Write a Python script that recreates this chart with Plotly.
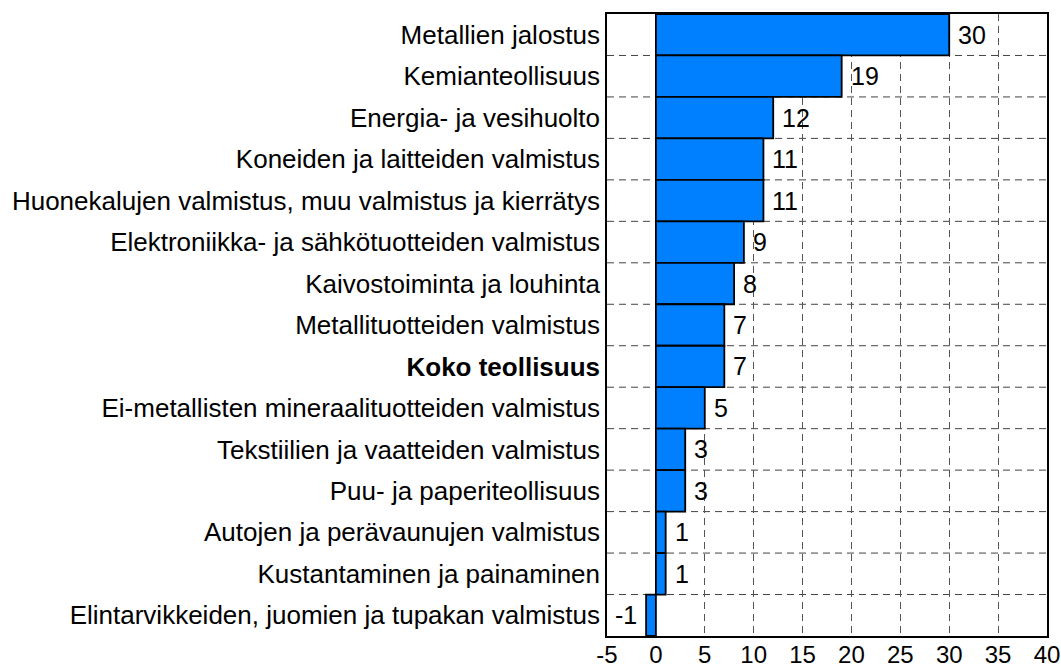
import plotly.graph_objects as go

categories = [
    "Metallien jalostus",
    "Kemianteollisuus",
    "Energia- ja vesihuolto",
    "Koneiden ja laitteiden valmistus",
    "Huonekalujen valmistus, muu valmistus ja kierrätys",
    "Elektroniikka- ja sähkötuotteiden valmistus",
    "Kaivostoiminta ja louhinta",
    "Metallituotteiden valmistus",
    "<b>Koko teollisuus</b>",
    "Ei-metallisten mineraalituotteiden valmistus",
    "Tekstiilien ja vaatteiden valmistus",
    "Puu- ja paperiteollisuus",
    "Autojen ja perävaunujen valmistus",
    "Kustantaminen ja painaminen",
    "Elintarvikkeiden, juomien ja tupakan valmistus",
]
values = [30, 19, 12, 11, 11, 9, 8, 7, 7, 5, 3, 3, 1, 1, -1]
x_ticks = [-5, 0, 5, 10, 15, 20, 25, 30, 35, 40]

n = len(categories)
ypos = list(range(n - 1, -1, -1))  # first category at top

FONT = "Liberation Sans, Arial, sans-serif"
FS = 26

fig = go.Figure()
fig.add_trace(go.Bar(
    x=values, y=ypos, orientation="h",
    width=1.0,
    marker=dict(color="#0080FF", line=dict(color="black", width=1.8)),
    hoverinfo="skip",
))

for v, y in zip(values, ypos):
    fig.add_annotation(
        x=v, y=y, text=str(v), showarrow=False,
        xanchor="left" if v >= 0 else "right",
        xshift=7 if v >= 0 else -7,
        font=dict(family=FONT, size=25, color="black"),
    )

# horizontal dashed separators between categories
for i in range(n - 1):
    fig.add_shape(
        type="line", xref="paper", x0=0, x1=1, yref="y", y0=i + 0.5, y1=i + 0.5,
        line=dict(color="#444444", width=1, dash="7px,5px"), layer="below",
    )

fig.update_layout(
    width=1061, height=668,
    margin=dict(l=607, r=14, t=14, b=32, autoexpand=False),
    paper_bgcolor="white", plot_bgcolor="white",
    showlegend=False,
    font=dict(family=FONT, size=FS, color="black"),
    xaxis=dict(
        range=[-5, 40], tickvals=x_ticks, ticktext=[str(t) for t in x_ticks],
        showgrid=True, gridcolor="#555555", gridwidth=1, griddash="7px,5px",
        zeroline=False, showline=True, linecolor="black", linewidth=1.5, mirror=True,
        ticks="", tickfont=dict(size=24), automargin=False, ticklabeloverflow="allow",
        ticklabelstandoff=-4,
    ),
    yaxis=dict(
        range=[-0.5, n - 0.5], tickvals=ypos, ticktext=categories,
        showgrid=False, zeroline=False, showline=True, linecolor="black",
        linewidth=1.5, mirror=True, ticks="", tickfont=dict(size=FS),
        automargin=False, ticklabeloverflow="allow",
    ),
)

fig.write_html(
    "out.html",
    config={"displayModeBar": False},
    post_script="document.body.style.margin='0';document.body.style.overflow='hidden';",
)
